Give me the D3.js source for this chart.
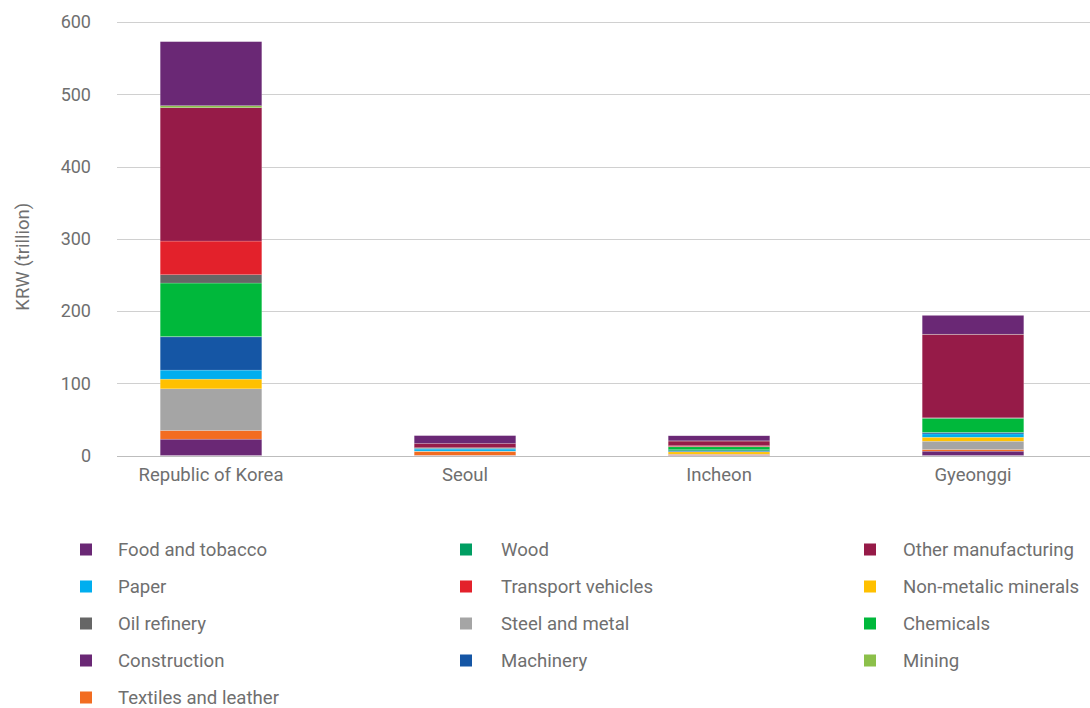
<!DOCTYPE html>
<html>
<head>
<meta charset="utf-8">
<script src="https://cdn.jsdelivr.net/npm/d3@7"></script>
<style>
  body { margin: 0; background: #fff; font-family: Roboto, "Noto Sans", sans-serif; }
  .tick text { fill: #6f6f6f; }
</style>
</head>
<body>
<div id="chart"></div>
<script>
// Regions along the x axis.
const regions = ['Republic of Korea', 'Seoul', 'Incheon', 'Gyeonggi'];

// Series values (KRW trillion), one per region.
const food         = [22.6, 0.3, 0.5, 6];
const textiles     = [12, 5.3, 1, 2.3];
const steel        = [57.7, 0.3, 0.5, 11.5];
const nonMetallic  = [13.4, 0.2, 3, 5.5];
const paper        = [12.5, 2.8, 0.5, 4.6];
const machinery    = [46, 1, 1, 1.8];
const wood         = [0.5, 0, 1.5, 0.5];
const chemicals    = [74, 0.3, 4, 19.4];
const oilRefinery  = [11.5, 0.3, 0.5, 0.3];
const transport    = [46.6, 0.3, 1, 0.3];
const otherManuf   = [184.6, 6, 6.5, 115.5];
const mining       = [2.8, 0, 0.3, 0.2];
const construction = [88.6, 10.7, 7, 26];

const yTicks = [0, 100, 200, 300, 400, 500, 600];

// Stack order, bottom to top.
const series = [
  ['Food and tobacco', food, '#6a2875'],
  ['Textiles and leather', textiles, '#f26c21'],
  ['Steel and metal', steel, '#a5a5a5'],
  ['Non-metalic minerals', nonMetallic, '#ffc000'],
  ['Paper', paper, '#00aeef'],
  ['Machinery', machinery, '#1556a5'],
  ['Wood', wood, '#009e62'],
  ['Chemicals', chemicals, '#00b83b'],
  ['Oil refinery', oilRefinery, '#666666'],
  ['Transport vehicles', transport, '#e3212b'],
  ['Other manufacturing', otherManuf, '#961b48'],
  ['Mining', mining, '#8cc04a'],
  ['Construction', construction, '#6a2875']
];

// Legend order (row by row, three columns).
const legendOrder = [
  'Food and tobacco', 'Wood', 'Other manufacturing',
  'Paper', 'Transport vehicles', 'Non-metalic minerals',
  'Oil refinery', 'Steel and metal', 'Chemicals',
  'Construction', 'Machinery', 'Mining',
  'Textiles and leather'
];

const width = 1090;
const height = 708;
const keys = series.map(s => s[0]);
const colorOf = {};
series.forEach(s => colorOf[s[0]] = s[2]);

let rows = regions.map((r, i) => {
  let row = { region: r };
  for (let s of series) row[s[0]] = s[1][i];
  return row;
});

let stacked = d3.stack().keys(keys)(rows);

let svg = d3.select('#chart')
  .append('svg')
  .attr('width', width)
  .attr('height', height);

let x = d3.scaleBand().domain(regions).range([84, 1100]).paddingInner(0.6).paddingOuter(0.3);
let y = d3.scaleLinear().domain([0, 600]).range([455.5, 22]);

// Gridlines.
svg.append('g')
  .selectAll('line')
  .data(yTicks)
  .enter()
  .append('line')
    .attr('x1', 117)
    .attr('x2', width)
    .attr('y1', d => Math.round(y(d)) + 0.5)
    .attr('y2', d => Math.round(y(d)) + 0.5)
    .attr('stroke', d => d === 0 ? '#bdbdbd' : '#d0d0d0')
    .attr('stroke-width', 1);

// Y axis labels.
let yAxis = d3.axisLeft(y)
  .tickValues(yTicks)
  .tickSize(0)
  .tickPadding(0);

svg.append('g')
  .attr('transform', 'translate(91,0)')
  .call(yAxis)
  .call(g => g.select('.domain').remove())
  .selectAll('text')
    .style('font-size', '18px')
    .style('font-family', 'Roboto, sans-serif');

svg.append('text')
  .attr('transform', `translate(29,${y(300) + 18}) rotate(-90)`)
  .style('text-anchor', 'middle')
  .style('font-size', '18.5px')
  .attr('fill', '#6f6f6f')
  .text('KRW (trillion)');

// Bars.
svg.append('g')
  .selectAll('g')
  .data(stacked)
  .enter()
  .append('g')
    .attr('fill', d => colorOf[d.key])
  .selectAll('rect')
  .data(d => d)
  .enter()
  .append('rect')
    .attr('x', d => x(d.data.region))
    .attr('y', d => y(d[1]))
    .attr('width', x.bandwidth())
    .attr('height', d => y(d[0]) - y(d[1]))
    .attr('stroke', 'rgba(255,255,255,0.35)')
    .attr('stroke-width', 0.5);

// X axis labels.
let xAxis = d3.axisBottom(x).tickSize(0).tickPadding(0);

svg.append('g')
  .attr('transform', 'translate(0,468)')
  .call(xAxis)
  .call(g => g.select('.domain').remove())
  .selectAll('text')
    .style('font-size', '18.5px')
    .style('font-family', 'Roboto, sans-serif');

// Legend.
const legendSquareX = [80, 460, 864];
const legendTextX = [118, 501, 903];
const legendRowY = 549.5;
const legendRowStep = 37;

let legend = svg.append('g')
  .selectAll('g')
  .data(legendOrder)
  .enter()
  .append('g')
    .attr('transform', (d, i) => `translate(0,${legendRowY + Math.floor(i / 3) * legendRowStep})`);

legend.append('rect')
  .attr('x', (d, i) => legendSquareX[i % 3])
  .attr('y', -6)
  .attr('width', 12)
  .attr('height', 12)
  .attr('fill', d => colorOf[d]);

legend.append('text')
  .attr('x', (d, i) => legendTextX[i % 3])
  .attr('dy', '0.33em')
  .style('font-size', '18.6px')
  .attr('fill', '#6f6f6f')
  .text(d => d);
</script>
</body>
</html>
